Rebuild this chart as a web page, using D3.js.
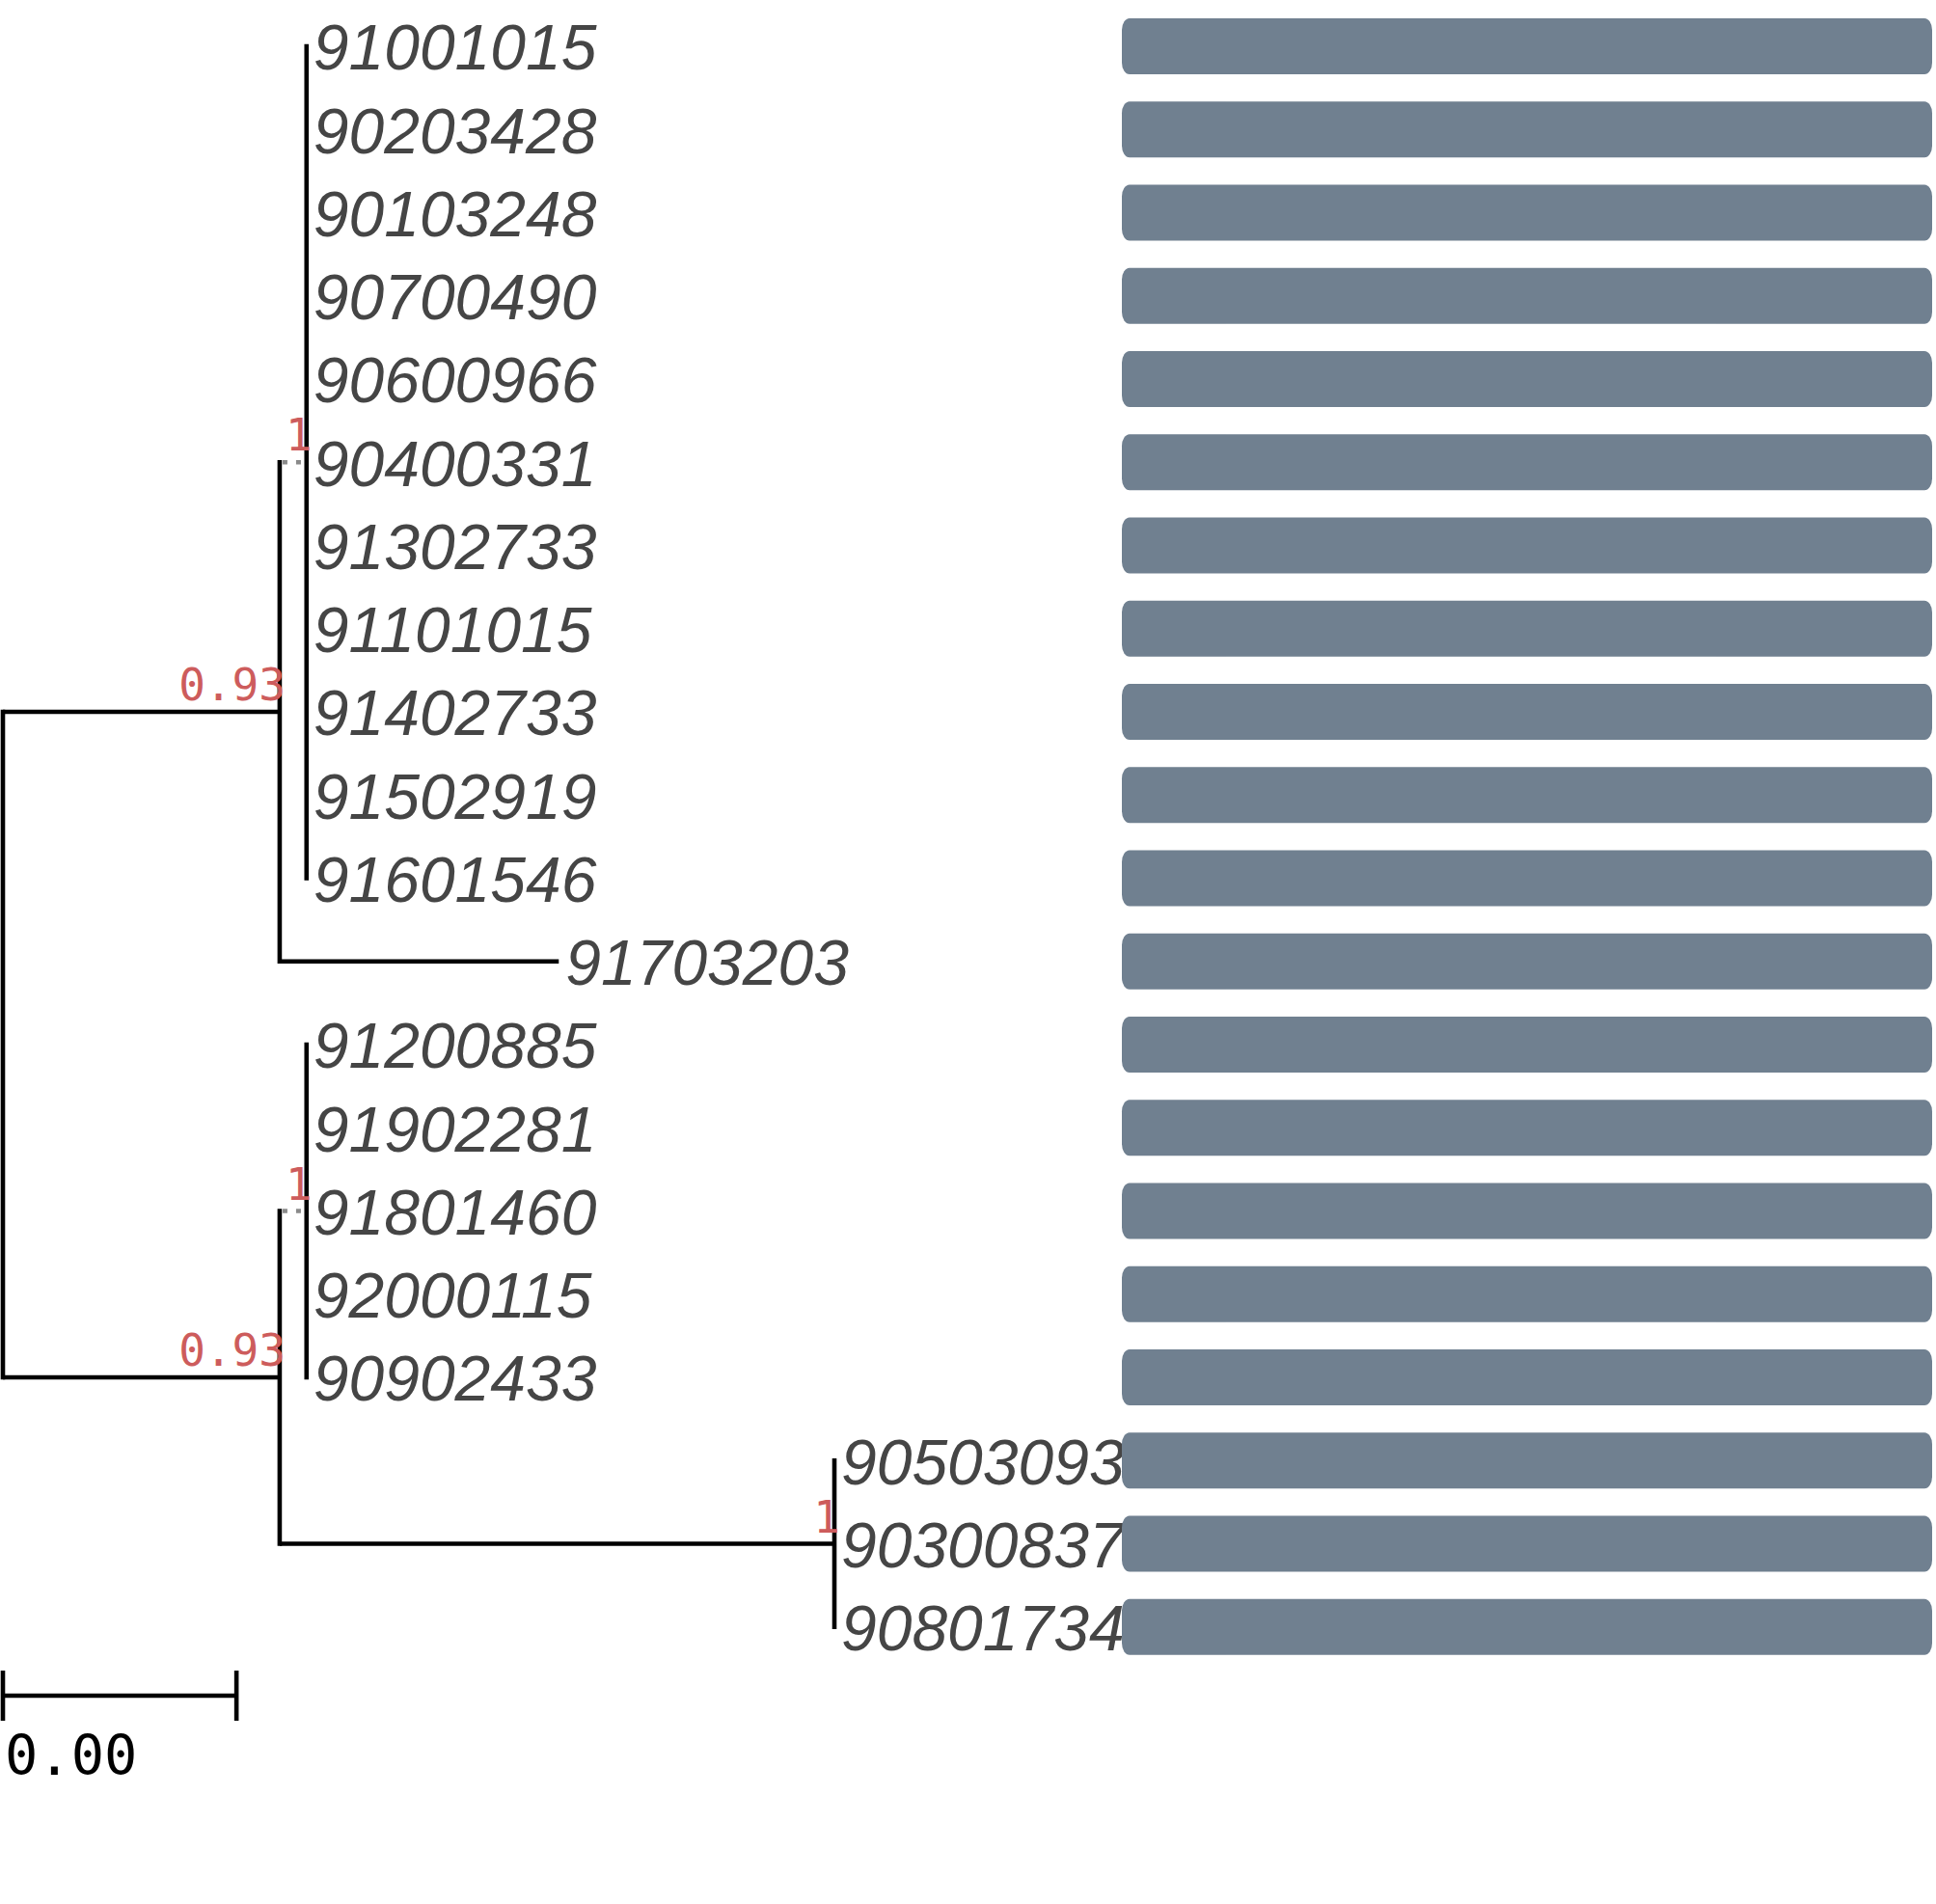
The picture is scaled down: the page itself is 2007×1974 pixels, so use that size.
<!DOCTYPE html>
<html>
<head>
  <title>Tree</title>
  <meta charset="utf-8">
  <script src="https://d3js.org/d3.v7.min.js"></script>
  <style type="text/css">
    body {
      margin: 0;
      background: #ffffff;
    }
    .tip-label {
      font-family: "Liberation Sans", Arial, sans-serif;
      font-style: italic;
      fill: #454545;
    }
    .support {
      font-family: "DejaVu Sans Mono", monospace;
      fill: #cd5c5c;
    }
  </style>
</head>
<body>
  <div id="chart"></div>
<script type="text/javascript">
  // tips, top to bottom
  const tipNames = ['91001015', '90203428', '90103248', '90700490', '90600966', '90400331',
    '91302733', '91101015', '91402733', '91502919', '91601546', '91703203',
    '91200885', '91902281', '91801460', '92000115', '90902433',
    '90503093', '90300837', '90801734'];
  const tipParents = ['A1', 'A1', 'A1', 'A1', 'A1', 'A1', 'A1', 'A1', 'A1', 'A1', 'A1', 'A',
    'B1', 'B1', 'B1', 'B1', 'B1', 'B2', 'B2', 'B2'];
  const tipLengths = [0, 0, 0, 0, 0, 0, 0, 0, 0, 0, 0, 0.00239,
    0, 0, 0, 0, 0, 0, 0, 0];

  // internal nodes
  const nodeNames = ['root', 'A', 'A1', 'B', 'B1', 'B2'];
  const nodeParents = ['', 'root', 'A', 'root', 'B', 'B'];
  const nodeLengths = [0, 0.00237, 0.00023, 0.00237, 0.00023, 0.00475];
  const nodeSupport = ['', '0.93', '1', '0.93', '1', '1'];

  // bar panel next to the tree
  const barValues = [1, 1, 1, 1, 1, 1, 1, 1, 1, 1, 1, 1, 1, 1, 1, 1, 1, 1, 1, 1];
  const treeScaleLength = 0.002;

  const width = 2007, height = 1974;

  const svg = d3.select('#chart')
    .append('svg')
      .attr('width', width)
      .attr('height', height);

  // build the tree
  const rows = nodeNames.map((n, i) => ({ id: n, parentId: nodeParents[i] || null, len: nodeLengths[i], support: nodeSupport[i] }))
    .concat(tipNames.map((n, i) => ({ id: n, parentId: tipParents[i], len: tipLengths[i], support: '' })));
  const root = d3.stratify().id(d => d.id).parentId(d => d.parentId)(rows);

  root.eachBefore(d => { d.bx = (d.parent ? d.parent.bx : 0) + d.data.len; });
  root.eachAfter(d => {
    if (!d.children) d.row = tipNames.indexOf(d.id);
    else d.row = d3.mean(d.children, c => c.row);
  });

  const x = d3.scaleLinear()
    .domain([0, d3.max(root.descendants(), d => d.bx)])
    .range([3, 865]);
  const y = d3.scaleLinear()
    .domain([0, tipNames.length - 1])
    .range([48, 1686.75]);
  const xBar = d3.scaleLinear()
    .domain([0, 1])
    .range([1163, 2003]);

  const lw = 4.6;
  const g = svg.append('g');

  // vertical connectors
  g.selectAll('line.v').data(root.descendants().filter(d => d.children)).enter()
    .append('line')
      .attr('class', 'v')
      .attr('x1', d => x(d.bx))
      .attr('x2', d => x(d.bx))
      .attr('y1', d => y(d3.min(d.children, c => c.row)))
      .attr('y2', d => y(d3.max(d.children, c => c.row)))
      .attr('stroke', '#000')
      .attr('stroke-width', lw)
      .attr('stroke-linecap', 'square');

  // horizontal branches (very short ones come out dotted grey)
  g.selectAll('line.h').data(root.descendants().filter(d => d.parent && d.data.len > 0)).enter()
    .append('line')
      .attr('class', 'h')
      .attr('x1', d => x(d.parent.bx))
      .attr('x2', d => x(d.bx))
      .attr('y1', d => y(d.row))
      .attr('y2', d => y(d.row))
      .attr('stroke', d => d.data.len < 0.0005 ? '#8a8a8a' : '#000')
      .attr('stroke-dasharray', d => d.data.len < 0.0005 ? '5,9' : null)
      .attr('stroke-dashoffset', d => d.data.len < 0.0005 ? -3 : null)
      .attr('stroke-width', lw);

  // bars
  svg.selectAll('rect.bar').data(barValues).enter()
    .append('rect')
      .attr('class', 'bar')
      .attr('x', xBar(0))
      .attr('y', (d, i) => y(i) - 29)
      .attr('width', d => xBar(d) - xBar(0))
      .attr('height', 58)
      .attr('rx', 8)
      .attr('ry', 12)
      .attr('fill', '#708090');

  // tip labels
  g.selectAll('text.tip-label').data(root.leaves()).enter()
    .append('text')
      .attr('class', 'tip-label')
      .attr('x', d => x(d.bx) + 7)
      .attr('y', d => y(d.row))
      .attr('dy', '0.37em')
      .attr('font-size', 66)
      .text(d => d.id);

  // support values
  g.selectAll('text.support').data(root.descendants().filter(d => d.data.support)).enter()
    .append('text')
      .attr('class', 'support')
      .attr('x', d => x(d.bx) + 6)
      .attr('y', d => y(d.row) - 12)
      .attr('text-anchor', 'end')
      .attr('font-size', 46)
      .text(d => d.data.support);

  // tree scale
  const sb = svg.append('g');
  const sbX0 = x(0), sbX1 = x(treeScaleLength), sbY = 1758;
  sb.append('line')
    .attr('x1', sbX0).attr('x2', sbX1)
    .attr('y1', sbY).attr('y2', sbY)
    .attr('stroke', '#000').attr('stroke-width', lw);
  sb.selectAll('line.tick').data([sbX0, sbX1]).enter()
    .append('line')
      .attr('x1', d => d).attr('x2', d => d)
      .attr('y1', sbY - 26).attr('y2', sbY + 26)
      .attr('stroke', '#000').attr('stroke-width', lw);
  sb.append('text')
    .attr('x', sbX0 + 2)
    .attr('y', 1840)
    .attr('font-family', '"DejaVu Sans Mono", monospace')
    .attr('font-size', 57)
    .attr('fill', '#000')
    .text(d3.format('.2f')(0));
</script>
</body>
</html>
